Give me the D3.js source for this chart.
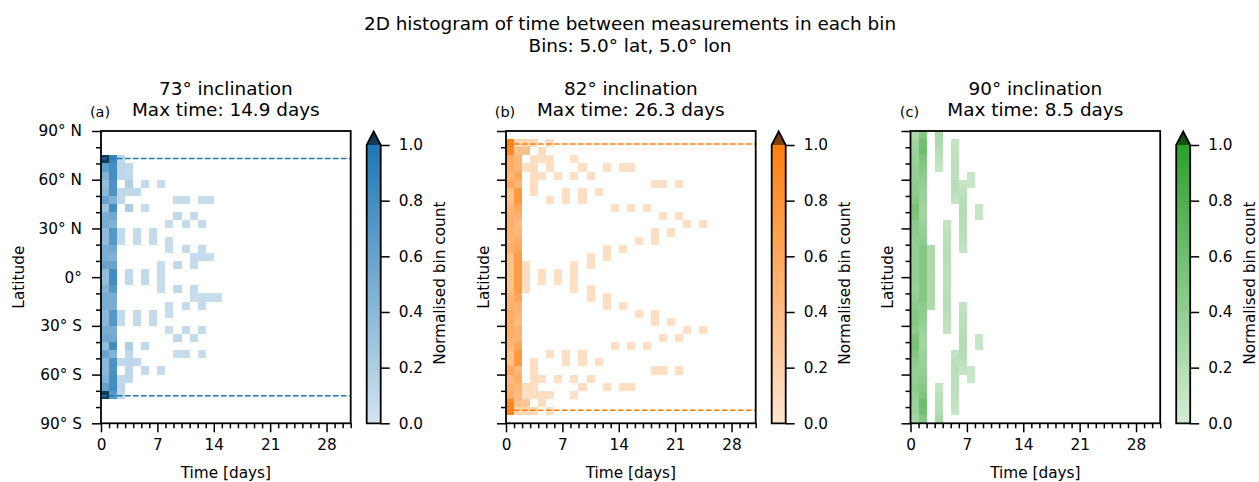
<!DOCTYPE html>
<html><head><meta charset="utf-8">
<script src="https://cdn.jsdelivr.net/npm/d3@7"></script>
<style>
body{margin:0;background:#fff}
text{font-family:"DejaVu Sans",sans-serif;fill:#000}
</style>
</head><body><svg id="chart" width="1259" height="482"></svg>
<script>
// ---------------- DATA ----------------
// latitude bins (lower edge, 5° wide), north to south
const latLower = [85,80,75,70,65,60,55,50,45,40,35,30,25,20,15,10,5,0,-5,-10,-15,-20,-25,-30,-35,-40,-45,-50,-55,-60,-65,-70,-75,-80,-85,-90];
const latTicks = [90,60,30,0,-30,-60,-90];
const latTickLabels = ["90° N","60° N","30° N","0°","30° S","60° S","90° S"];
const latMinor = [80,70,50,40,20,10,-10,-20,-40,-50,-70,-80];
const dayTicks = [0,7,14,21,28];
const dayTickLabels = ["0","7","14","21","28"];
const dayMinor = [1,2,3,4,5,6,8,9,10,11,12,13,15,16,17,18,19,20,22,23,24,25,26,27,29,30,31];
const cbarTicks = [0,0.2,0.4,0.6,0.8,1.0];
const cbarTickLabels = ["0.0","0.2","0.4","0.6","0.8","1.0"];
const inclinations = ["73° inclination","82° inclination","90° inclination"];
const maxTimes = ["14.9","26.3","8.5"];
const panelLetters = ["(a)","(b)","(c)"];
const coverageLat = [73, 82, null];

// normalised counts for the first two day bins (day 0 and day 1), one value per latitude bin
const inc73Day0 = [0,0,0, 1.15,0.65,0.45,0.35,0.4,0.6,0.3,0.5,0.5,0.38,0.38,0.5,0.5,0.6,0.35, 0.35,0.45,0.5,0.5,0.4,0.4,0.5,0.55,0.35,0.6,0.4,0.4,0.45,0.6,1.15, 0,0,0];
const inc73Day1 = [0,0,0, 0.85,0.8,0.8,0.75,0.75,0.45,0.8,0.55,0.45,0.7,0.7,0.55,0.45,0.6,0.8, 0.8,0.7,0.5,0.5,0.7,0.7,0.5,0.55,0.8,0.45,0.75,0.75,0.8,0.8,0.7, 0,0,0];
const inc82Day0 = [0, 0.95,0.9,0.55,0.55,0.45,0.6,0.35,0.35,0.45,0.5,0.55,0.5,0.45,0.5,0.35,0.35,0.35, 0.35,0.35,0.45,0.5,0.55,0.55,0.55,0.5,0.45,0.35,0.35,0.6,0.4,0.5,0.55,0.9,0.95, 0];
const inc82Day1 = [0, 0.15,0.35,0.45,0.45,0.6,0.45,0.75,0.75,0.6,0.5,0.4,0.45,0.55,0.6,0.7,0.7,0.7, 0.7,0.7,0.6,0.5,0.45,0.4,0.5,0.5,0.6,0.75,0.75,0.45,0.55,0.45,0.4,0.35,0.15, 0];
const inc90Day0 = [0.25,0.3,0.33,0.35,0.38,0.38,0.42,0.42,0.48,0.56,0.52,0.44,0.42,0.38,0.38,0.38,0.38,0.38, 0.38,0.35,0.38,0.42,0.48,0.48,0.42,0.52,0.56,0.48,0.42,0.38,0.38,0.42,0.38,0.35,0.33,0.28];
const inc90Day1 = [0.48,0.58,0.62,0.52,0.48,0.42,0.38,0.34,0.34,0.3,0.3,0.34,0.38,0.42,0.48,0.48,0.48,0.48, 0.48,0.48,0.48,0.42,0.42,0.38,0.34,0.3,0.3,0.34,0.34,0.38,0.42,0.48,0.52,0.62,0.58,0.48];

// remaining (sparse) cells: [latitude bin lower edge, day bin, normalised count]
const inc73Cells = [
 [70,2,0.1],[65,2,0.12],[65,3,0.1],[60,2,0.1],[60,3,0.1],
 [55,3,0.2],[55,5,0.08],[55,7,0.08],[50,2,0.1],[50,3,0.1],[50,4,0.1],
 [45,2,0.1],[45,9,0.06],[45,10,0.06],[45,12,0.06],[45,13,0.06],
 [40,3,0.2],[40,5,0.08],[35,9,0.1],[35,11,0.08],
 [30,8,0.06],[30,10,0.08],[30,12,0.08],
 [25,2,0.08],[25,4,0.08],[25,6,0.08],
 [20,2,0.08],[20,4,0.08],[20,6,0.08],[20,8,0.06],
 [15,8,0.06],[15,10,0.08],[15,12,0.08],
 [10,11,0.06],[10,12,0.08],[10,13,0.06],
 [5,7,0.06],[5,9,0.1],[5,11,0.08],
 [0,3,0.1],[0,5,0.1],[0,7,0.06],
 [-5,3,0.1],[-5,5,0.1],[-5,7,0.06],
 [-10,7,0.06],[-10,9,0.1],[-10,11,0.08],
 [-15,11,0.06],[-15,12,0.06],[-15,13,0.06],[-15,14,0.06],
 [-20,8,0.06],[-20,10,0.08],[-20,12,0.08],
 [-25,2,0.08],[-25,4,0.08],[-25,6,0.08],[-25,8,0.06],
 [-30,2,0.08],[-30,4,0.08],[-30,6,0.08],
 [-35,8,0.06],[-35,10,0.08],[-35,12,0.08],
 [-40,9,0.1],[-40,11,0.08],
 [-45,3,0.2],[-45,5,0.1],
 [-50,3,0.1],[-50,9,0.06],[-50,10,0.06],[-50,12,0.06],
 [-55,2,0.1],[-55,3,0.12],[-55,4,0.1],
 [-60,3,0.12],[-60,5,0.08],[-60,7,0.08],
 [-65,2,0.1],[-65,3,0.1],[-70,2,0.1],[-75,2,0.1]
];
const inc82Cells = [
 [80,2,0.15],[80,3,0.1],[80,5,0.06],[75,2,0.35],[75,4,0.08],
 [70,3,0.06],[70,4,0.06],[70,5,0.06],[70,8,0.06],
 [65,2,0.06],[65,3,0.08],[65,5,0.06],[65,9,0.06],[65,12,0.06],[65,14,0.06],[65,15,0.06],
 [60,3,0.08],[60,4,0.06],[60,6,0.06],[60,8,0.06],[60,10,0.06],
 [55,3,0.08],[55,18,0.06],[55,19,0.06],[55,21,0.06],
 [50,3,0.08],[50,7,0.06],[50,9,0.06],[50,11,0.06],
 [45,5,0.06],[45,7,0.06],[45,9,0.06],
 [40,13,0.06],[40,15,0.06],[40,17,0.06],
 [35,19,0.06],[35,21,0.06],[30,22,0.06],[30,24,0.06],
 [25,18,0.06],[25,20,0.06],[20,16,0.06],[20,18,0.06],
 [15,12,0.06],[15,14,0.06],[10,10,0.06],[10,12,0.06],
 [5,2,0.08],[5,8,0.06],[5,10,0.06],
 [0,2,0.08],[0,4,0.06],[0,6,0.06],[0,8,0.06],
 [-5,2,0.08],[-5,4,0.06],[-5,6,0.06],[-5,8,0.06],
 [-10,2,0.08],[-10,8,0.06],[-10,10,0.06],
 [-15,10,0.06],[-15,12,0.06],[-20,12,0.06],[-20,14,0.06],
 [-25,16,0.06],[-25,18,0.06],[-30,18,0.06],[-30,20,0.06],
 [-35,22,0.06],[-35,24,0.06],[-40,19,0.06],[-40,21,0.06],
 [-45,13,0.06],[-45,15,0.06],[-45,17,0.06],
 [-50,5,0.06],[-50,7,0.06],[-50,9,0.06],
 [-55,3,0.08],[-55,7,0.06],[-55,9,0.06],[-55,11,0.06],
 [-60,3,0.08],[-60,18,0.06],[-60,19,0.06],[-60,21,0.06],
 [-65,3,0.08],[-65,4,0.06],[-65,6,0.06],[-65,8,0.06],[-65,10,0.06],
 [-70,2,0.1],[-70,3,0.08],[-70,9,0.06],[-70,12,0.06],[-70,14,0.06],[-70,15,0.06],
 [-75,2,0.05],[-75,3,0.08],[-75,4,0.06],[-75,5,0.06],[-75,8,0.06],
 [-80,2,0.3],[-80,4,0.08],
 [-85,2,0.15],[-85,3,0.12],[-85,5,0.06]
];
const inc90Cells = [
 [15,2,0.24],[10,2,0.26],[5,2,0.26],[0,2,0.24],[-5,2,0.24],[-10,2,0.26],[-15,2,0.26],[-20,2,0.22],
 [85,3,0.26],[80,3,0.22],[75,3,0.18],[70,3,0.14],[65,3,0.1],
 [-70,3,0.1],[-75,3,0.14],[-80,3,0.18],[-85,3,0.2],[-90,3,0.26],
 [30,4,0.12],[25,4,0.14],[20,4,0.16],[15,4,0.18],[10,4,0.18],[5,4,0.16],[0,4,0.16],
 [-5,4,0.16],[-10,4,0.16],[-15,4,0.18],[-20,4,0.18],[-25,4,0.16],[-30,4,0.14],[-35,4,0.12],
 [80,5,0.1],[75,5,0.13],[70,5,0.14],[65,5,0.16],[60,5,0.16],[55,5,0.18],[50,5,0.16],[45,5,0.12],
 [-50,5,0.12],[-55,5,0.16],[-60,5,0.18],[-65,5,0.16],[-70,5,0.16],[-75,5,0.14],[-80,5,0.13],[-85,5,0.1],
 [55,6,0.1],[50,6,0.14],[45,6,0.18],[40,6,0.2],[35,6,0.2],[30,6,0.18],[25,6,0.16],[20,6,0.14],[15,6,0.12],
 [-20,6,0.12],[-25,6,0.14],[-30,6,0.16],[-35,6,0.18],[-40,6,0.2],[-45,6,0.2],[-50,6,0.18],[-55,6,0.14],[-60,6,0.1],
 [60,7,0.08],[55,7,0.08],[-60,7,0.08],[-65,7,0.08],
 [40,8,0.08],[35,8,0.08],[-40,8,0.08],[-45,8,0.08]
];

const day0Series = [inc73Day0, inc82Day0, inc90Day0];
const day1Series = [inc73Day1, inc82Day1, inc90Day1];
const cellSeries = [inc73Cells, inc82Cells, inc90Cells];
const baseColors = ["#1f77b4","#ff7f0e","#2ca02c"];

// ---------------- LAYOUT ----------------
const svg = d3.select("#chart");
const panelLeft = [101, 506, 910.5];
const plotW = 249.7, plotTop = 131, plotBottom = 423.3;
const cbOffset = 265.7, cbW = 14, cbTop = 145;
const tickFont = "15.3px", titleFont = "18.4px";

svg.append("text").attr("x",630).attr("y",30).attr("text-anchor","middle").style("font-size",titleFont)
  .text("2D histogram of time between measurements in each bin");
svg.append("text").attr("x",630).attr("y",51.5).attr("text-anchor","middle").style("font-size",titleFont)
  .text("Bins: 5.0° lat, 5.0° lon");

const y = d3.scaleLinear().domain([-90,90]).range([plotBottom, plotTop]);

function colorFor(base, v){
  const c = d3.rgb(base);
  const light = d3.interpolateRgb("#ffffff", base)(0.2);
  if (v > 1) return d3.rgb(c.r*0.5, c.g*0.5, c.b*0.5).toString();
  return d3.interpolateRgb(light, base)(Math.max(0,v));
}

for (let p=0;p<3;p++){
  const L = panelLeft[p];
  const x = d3.scaleLinear().domain([0,31]).range([L, L+plotW]);
  const g = svg.append("g");
  const base = baseColors[p];

  // assemble cells
  const cells = [];
  latLower.forEach((lat,i)=>{
    if (day0Series[p][i]>0) cells.push([lat,0,day0Series[p][i]]);
    if (day1Series[p][i]>0) cells.push([lat,1,day1Series[p][i]]);
  });
  cellSeries[p].forEach(c=>cells.push(c));

  g.append("g").selectAll("rect").data(cells).join("rect")
    .attr("x", d=>x(d[1])).attr("width", d=>x(d[1]+1)-x(d[1]))
    .attr("y", d=>y(d[0]+5)).attr("height", d=>y(d[0])-y(d[0]+5))
    .attr("fill", d=>colorFor(base,d[2]))
    .attr("shape-rendering","crispEdges");

  // coverage limit lines
  if (coverageLat[p] !== null){
    [coverageLat[p], -coverageLat[p]].forEach(lat=>{
      g.append("line").attr("x1",x(0)).attr("x2",x(31)).attr("y1",y(lat)).attr("y2",y(lat))
        .attr("stroke",base).attr("stroke-width",1.5).attr("stroke-dasharray","5.6,2.4");
    });
  }

  // axes
  const yMajor = d3.axisLeft(y).tickValues(latTicks).tickSize(9).tickPadding(10)
    .tickFormat((d,i)=> p===0 ? latTickLabels[i] : "");
  const yMin = d3.axisLeft(y).tickValues(latMinor).tickSize(5).tickFormat("");
  const xMajor = d3.axisBottom(x).tickValues(dayTicks).tickSize(9).tickPadding(7)
    .tickFormat((d,i)=>dayTickLabels[i]);
  const xMin = d3.axisBottom(x).tickValues(dayMinor).tickSize(5).tickFormat("");
  [[yMajor,`translate(${L},0)`],[yMin,`translate(${L},0)`],[xMajor,`translate(0,${plotBottom})`],[xMin,`translate(0,${plotBottom})`]]
   .forEach(([ax,tr])=>{
     const a = g.append("g").attr("transform",tr).call(ax);
     a.select(".domain").remove();
     a.selectAll("line").attr("stroke","#000").attr("stroke-width",1.5);
     a.selectAll("text").style("font-size",tickFont).style("font-family","DejaVu Sans").attr("fill","#000");
   });

  // frame
  g.append("rect").attr("x",L).attr("y",plotTop).attr("width",plotW).attr("height",plotBottom-plotTop)
    .attr("fill","none").attr("stroke","#000").attr("stroke-width",1.8);

  // titles
  const cx = L + plotW/2;
  g.append("text").attr("x",cx).attr("y",94.5).attr("text-anchor","middle").style("font-size",titleFont).text(inclinations[p]);
  g.append("text").attr("x",cx).attr("y",115.5).attr("text-anchor","middle").style("font-size",titleFont).text(`Max time: ${maxTimes[p]} days`);
  g.append("text").attr("x",L-1).attr("y",117).attr("text-anchor","middle").style("font-size","14.5px").text(panelLetters[p]);

  // axis labels
  const ylx = p===0 ? L-83 : L-23;
  g.append("text").attr("transform",`translate(${ylx+5.5},${(plotTop+plotBottom)/2}) rotate(-90)`)
    .attr("text-anchor","middle").style("font-size",tickFont).text("Latitude");
  g.append("text").attr("x",cx).attr("y",477.5).attr("text-anchor","middle").style("font-size",tickFont).text("Time [days]");

  // colorbar
  const cbL = L + cbOffset;
  const cy = d3.scaleLinear().domain([0,1]).range([plotBottom, cbTop]);
  const gid = "grad"+p;
  const grad = svg.append("defs").append("linearGradient").attr("id",gid)
    .attr("x1",0).attr("x2",0).attr("y1",1).attr("y2",0);
  grad.append("stop").attr("offset","0%").attr("stop-color",colorFor(base,0));
  grad.append("stop").attr("offset","100%").attr("stop-color",colorFor(base,1));
  g.append("rect").attr("x",cbL).attr("y",cbTop).attr("width",cbW).attr("height",plotBottom-cbTop)
    .attr("fill",`url(#${gid})`);
  g.append("path").attr("d",`M${cbL},${cbTop} L${cbL+cbW/2},${plotTop+0.5} L${cbL+cbW},${cbTop} Z`)
    .attr("fill",colorFor(base,1.5));
  g.append("path").attr("d",`M${cbL},${plotBottom} L${cbL},${cbTop} L${cbL+cbW/2},${plotTop+0.5} L${cbL+cbW},${cbTop} L${cbL+cbW},${plotBottom} Z`)
    .attr("fill","none").attr("stroke","#000").attr("stroke-width",1.8).attr("stroke-linejoin","miter");
  const cax = d3.axisRight(cy).tickValues(cbarTicks).tickSize(9).tickPadding(9).tickFormat((d,i)=>cbarTickLabels[i]);
  const ca = g.append("g").attr("transform",`translate(${cbL+cbW},0)`).call(cax);
  ca.select(".domain").remove();
  ca.selectAll("line").attr("stroke","#000").attr("stroke-width",1.5);
  ca.selectAll("text").style("font-size",tickFont).style("font-family","DejaVu Sans").attr("fill","#000");
  g.append("text").attr("transform",`translate(${cbL+cbW+64.5},${(plotTop+plotBottom)/2+6}) rotate(-90)`)
    .attr("text-anchor","middle").style("font-size",tickFont).text("Normalised bin count");
}
</script>
</body></html>
